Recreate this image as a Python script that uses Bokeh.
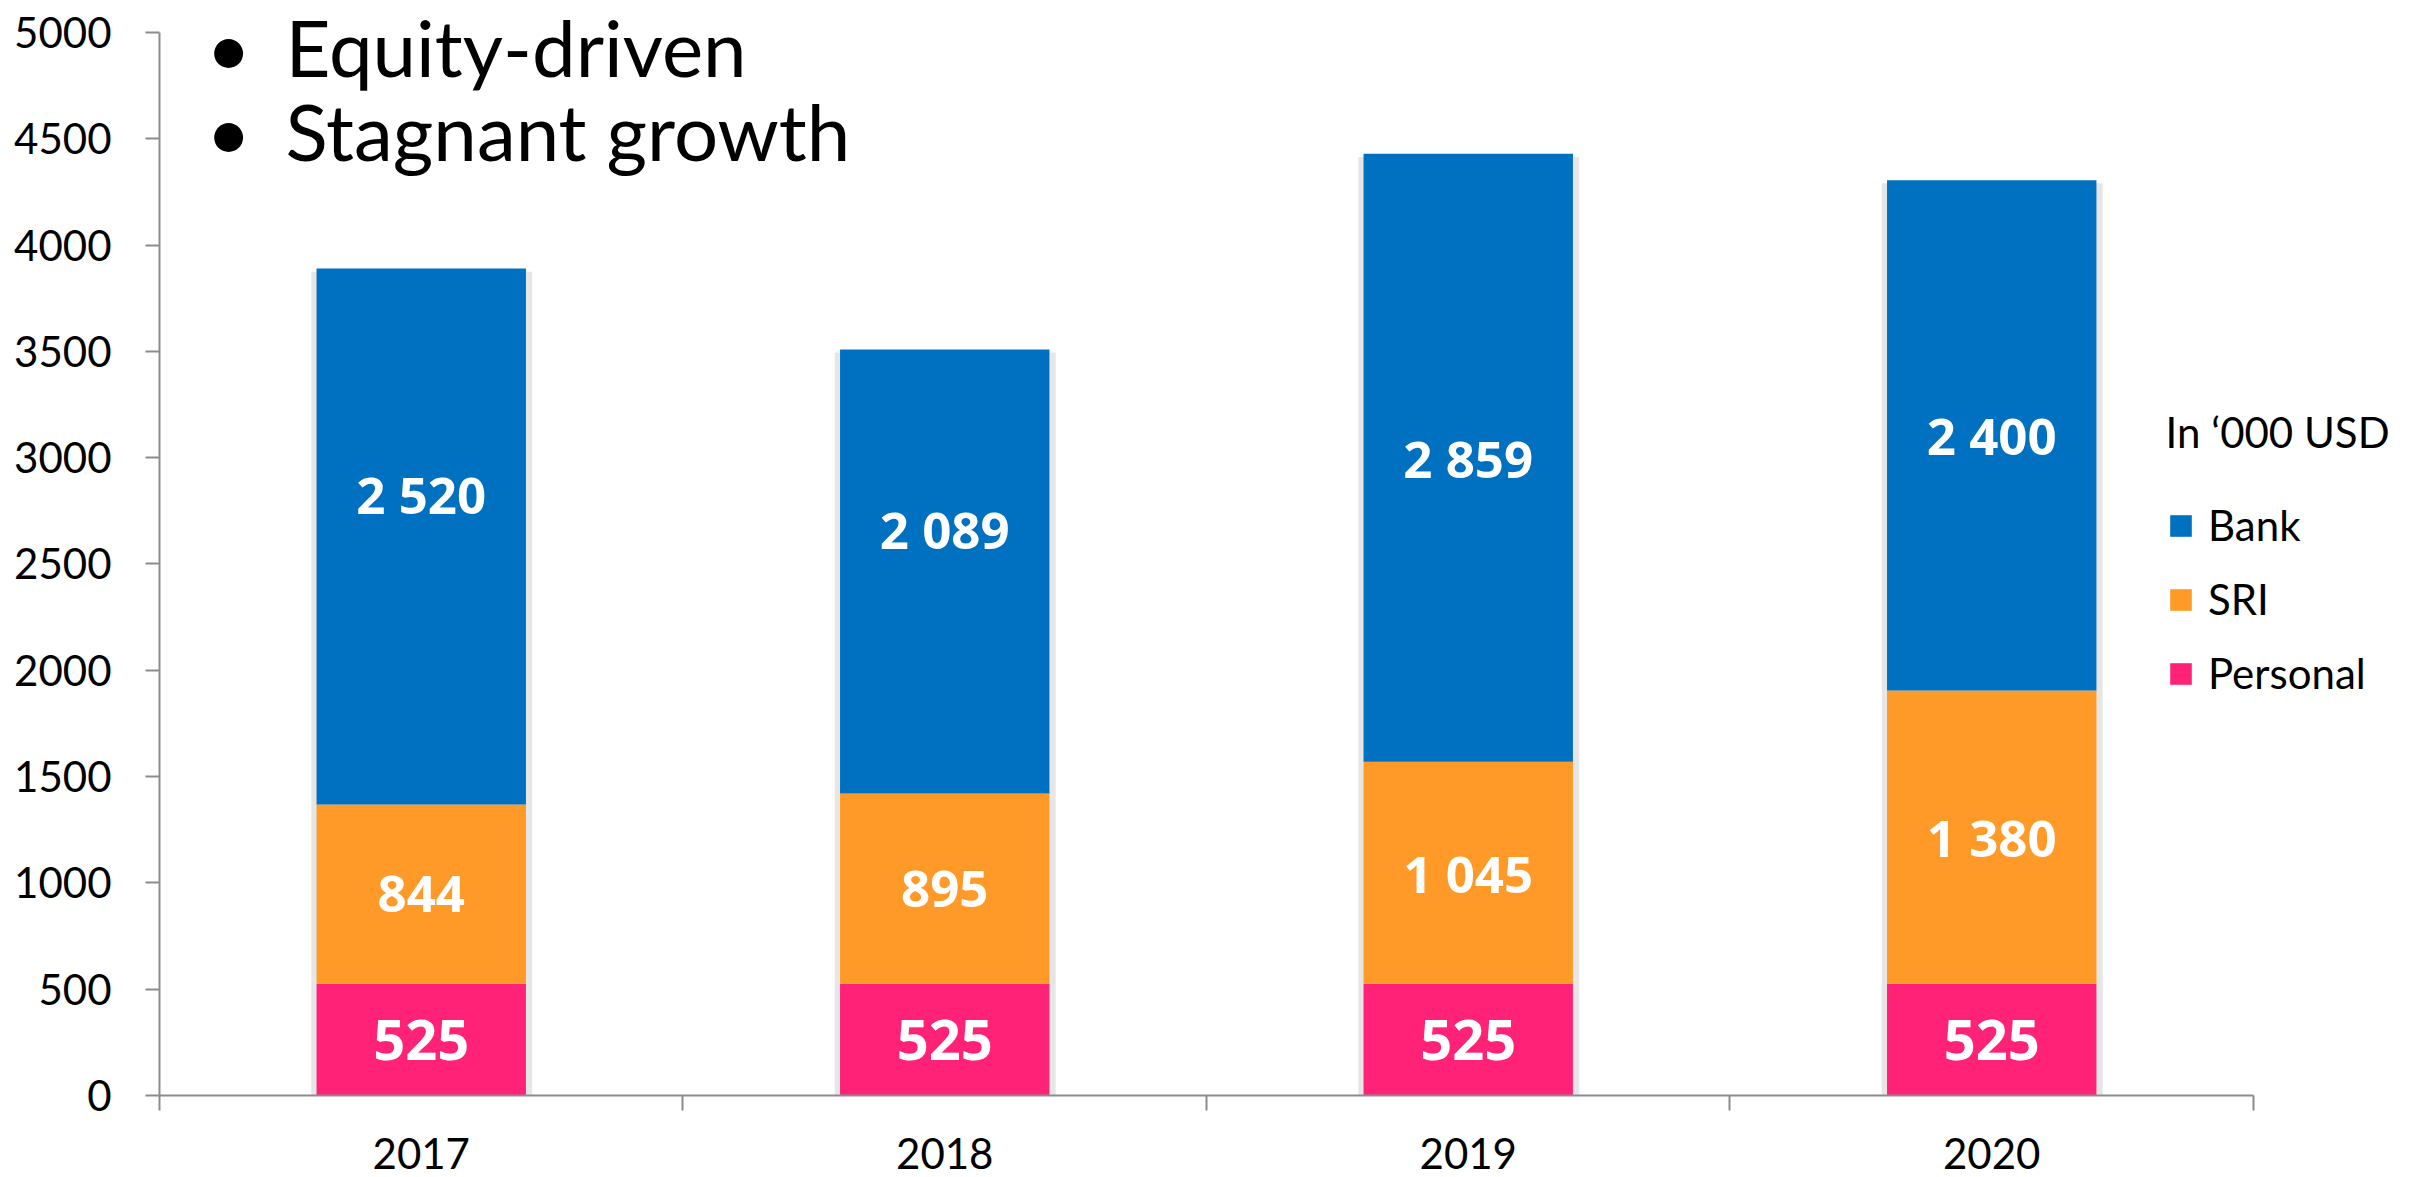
from bokeh.plotting import figure
from bokeh.models import Range1d, FixedTicker, Legend, LegendItem, Label, ColumnDataSource, LabelSet
from bokeh.core.properties import value
from bokeh.embed import file_html
from bokeh.resources import INLINE
import numpy as np

# ---- data -------------------------------------------------------------
years = ["2017", "2018", "2019", "2020"]
personal = [525, 525, 525, 525]
sri = [844, 895, 1045, 1380]
bank = [2520, 2089, 2859, 2400]
y_ticks = list(range(0, 5001, 500))
headline = ["Equity-driven", "Stagnant growth"]
unit_note = "In \u2018000 USD"

# ---- styling ----------------------------------------------------------
FONT = "Lato"
BOLD_FONT = "Open Sans"
C_BANK, C_SRI, C_PERS = "#0070C0", "#FF9A28", "#FF2277"
AXIS_GREY = "#8C8C8C"
BAR_W = 0.4
BANK_LABEL_LIFT = [200, 200, 0, 0]   # bank labels of the first two columns sit a bit higher
HEADLINE_Y = [4930, 4534]

n = len(years)
xc = np.arange(n) + 0.5
personal = np.array(personal)
sri = np.array(sri)
bank = np.array(bank)
s_top = personal + sri
b_top = s_top + bank


def fmt(v):
    return f"{int(v):,}".replace(",", " ")


# plot frame reaches the top and right edges so that the headline and legend
# can live inside it; the axes are bounded to the data extent instead
p = figure(width=2415, height=1177, output_backend="svg", toolbar_location=None,
           x_range=Range1d(0, 4.3095), y_range=Range1d(0, 5150),
           min_border_left=159, min_border_right=0,
           min_border_top=0, min_border_bottom=82)
p.outline_line_color = None
p.grid.visible = False
p.background_fill_color = "white"
p.border_fill_color = "white"

# soft drop shadow behind each column
p.quad(left=xc - BAR_W / 2 - 0.01, right=xc + BAR_W / 2 + 0.012,
       bottom=0, top=b_top - 15, color="#E6E6E6", line_color=None)

r_pers = p.vbar(x=xc, width=BAR_W, bottom=0, top=personal, color=C_PERS, line_color=None)
r_sri = p.vbar(x=xc, width=BAR_W, bottom=personal, top=s_top, color=C_SRI, line_color=None)
r_bank = p.vbar(x=xc, width=BAR_W, bottom=s_top, top=b_top, color=C_BANK, line_color=None)

# value labels inside the segments
lab_small = ColumnDataSource(dict(
    x=np.concatenate([xc, xc]),
    y=np.concatenate([(s_top + b_top) / 2 + np.array(BANK_LABEL_LIFT), (personal + s_top) / 2]),
    t=[fmt(v) for v in bank] + [fmt(v) for v in sri]))
p.add_layout(LabelSet(x="x", y="y", text="t", source=lab_small,
                      text_align="center", text_baseline="middle",
                      text_color="white", text_font=value(BOLD_FONT),
                      text_font_style="bold", text_font_size="51px"))
lab_pers = ColumnDataSource(dict(x=xc, y=personal / 2, t=[fmt(v) for v in personal]))
p.add_layout(LabelSet(x="x", y="y", text="t", source=lab_pers,
                      text_align="center", text_baseline="middle",
                      text_color="white", text_font=value(BOLD_FONT),
                      text_font_style="bold", text_font_size="56px"))

# ---- axes -------------------------------------------------------------
xa = p.xaxis[0]
xa.bounds = (0, n)
xa.ticker = FixedTicker(ticks=list(xc), minor_ticks=list(range(n + 1)))
xa.major_label_overrides = {float(v): y for v, y in zip(xc, years)}
xa.major_tick_out = 0
xa.major_tick_in = 0
xa.minor_tick_in = 0
xa.minor_tick_out = 15
xa.minor_tick_line_color = AXIS_GREY
xa.minor_tick_line_width = 2
xa.axis_line_color = AXIS_GREY
xa.axis_line_width = 2
xa.major_label_standoff = 27
xa.major_label_text_font = FONT
xa.major_label_text_font_size = "42px"
xa.major_label_text_color = "black"

ya = p.yaxis[0]
ya.bounds = (0, 5000)
ya.ticker = FixedTicker(ticks=y_ticks, minor_ticks=[])
ya.major_tick_out = 14
ya.major_tick_in = 0
ya.major_tick_line_color = AXIS_GREY
ya.major_tick_line_width = 2
ya.axis_line_color = AXIS_GREY
ya.axis_line_width = 2
ya.major_label_standoff = 34
ya.major_label_text_font = FONT
ya.major_label_text_font_size = "42px"
ya.major_label_text_color = "black"

# ---- headline bullets -------------------------------------------------
for yv, line in zip(HEADLINE_Y, headline):
    p.add_layout(Label(x=0.132, y=yv, text="\u2022", text_font=FONT, text_font_size="78px",
                       text_baseline="middle", text_align="center", text_color="black"))
    p.add_layout(Label(x=0.2407, y=yv, text=line, text_font=FONT, text_font_size="78px",
                       text_baseline="middle", text_align="left", text_color="black"))

# ---- legend -----------------------------------------------------------
p.add_layout(Label(x=3.832, y=3119, text=unit_note, text_font=FONT, text_font_size="42px",
                   text_baseline="middle", text_align="left", text_color="black"))
legend = Legend(items=[LegendItem(label="Bank", renderers=[r_bank]),
                       LegendItem(label="SRI", renderers=[r_sri]),
                       LegendItem(label="Personal", renderers=[r_pers])],
                location=(2008, 397), orientation="vertical",
                glyph_width=27, glyph_height=27, label_standoff=14,
                label_height=27, spacing=24,
                padding=0, margin=0, border_line_color=None, background_fill_alpha=0,
                label_text_font=FONT, label_text_font_size="42px", label_text_color="black",
                label_text_baseline="middle")
p.add_layout(legend)

open("out.html", "w").write(file_html(p, INLINE))
